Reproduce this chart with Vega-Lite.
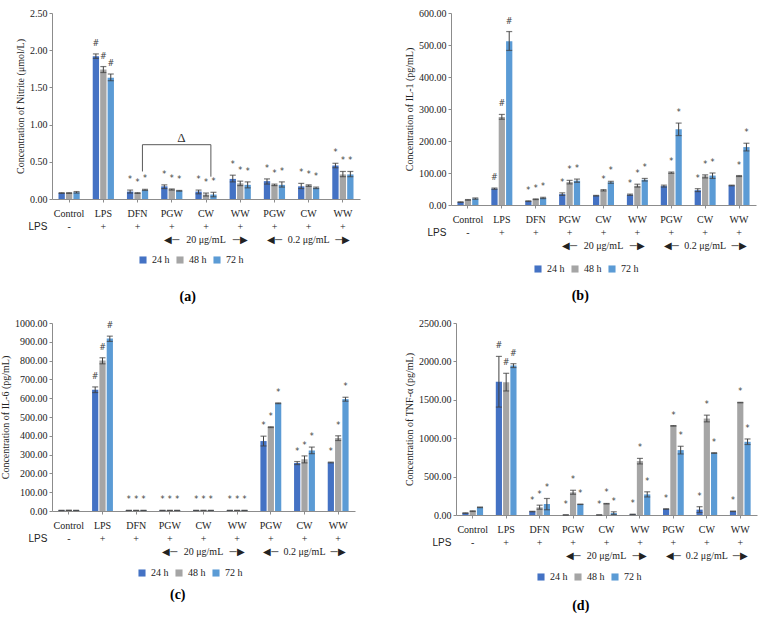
{
  "$schema": "https://vega.github.io/schema/vega-lite/v6.json",
  "background": "white",
  "padding": {"left": 0, "top": 8, "right": 2, "bottom": 0},
  "config": {
    "view": {"stroke": null},
    "font": "Liberation Serif",
    "axis": {"labelFont": "Liberation Serif", "labelFontSize": 10, "labelColor": "#222", "titleFont": "Liberation Serif", "titleFontSize": 10, "titleFontWeight": "normal", "titleColor": "#222", "domainColor": "#8c8c8c", "tickColor": "#8c8c8c", "tickSize": 3, "grid": false, "labelOverlap": false},
    "axisY": {"format": ".2f", "titlePadding": 4},
    "axisX": {"labelAngle": 0, "labelLineHeight": 13, "labelPadding": 6, "titleFont": "Liberation Sans", "titleFontSize": 10, "titleAnchor": "start", "titleX": -24, "titleY": 27, "titleBaseline": "middle", "titleAlign": "left"},
    "legend": {"orient": "none", "direction": "horizontal", "title": null, "symbolType": "square", "symbolSize": 50, "symbolStrokeWidth": 0, "labelFont": "Liberation Serif", "labelFontSize": 10, "labelColor": "#222", "columnPadding": 5},
    "title": {"orient": "bottom", "frame": "bounds", "anchor": "middle", "font": "Liberation Serif", "fontSize": 14, "fontWeight": "bold", "color": "#000", "offset": 20},
    "tick": {"color": "#404040", "thickness": 1.2, "size": 6},
    "rule": {"color": "#404040"},
    "text": {"font": "DejaVu Sans", "fontSize": 8, "dy": -10, "color": "#404040", "baseline": "middle"}
  },
  "datasets": {
    "a": [
      {"g":"Control","t":"24 h","v":0.08,"lo":0.075,"hi":0.085,"s":""},
      {"g":"Control","t":"48 h","v":0.08,"lo":0.075,"hi":0.085,"s":""},
      {"g":"Control","t":"72 h","v":0.09,"lo":0.08,"hi":0.10,"s":""},
      {"g":"LPS","t":"24 h","v":1.92,"lo":1.89,"hi":1.95,"s":"#"},
      {"g":"LPS","t":"48 h","v":1.74,"lo":1.70,"hi":1.78,"s":"#"},
      {"g":"LPS","t":"72 h","v":1.63,"lo":1.59,"hi":1.68,"s":"#"},
      {"g":"DFN","t":"24 h","v":0.10,"lo":0.08,"hi":0.12,"s":"*"},
      {"g":"DFN","t":"48 h","v":0.08,"lo":0.075,"hi":0.085,"s":"*"},
      {"g":"DFN","t":"72 h","v":0.12,"lo":0.115,"hi":0.13,"s":"*"},
      {"g":"PGW1","t":"24 h","v":0.17,"lo":0.14,"hi":0.19,"s":"*"},
      {"g":"PGW1","t":"48 h","v":0.13,"lo":0.12,"hi":0.135,"s":"*"},
      {"g":"PGW1","t":"72 h","v":0.11,"lo":0.105,"hi":0.115,"s":"*"},
      {"g":"CW1","t":"24 h","v":0.10,"lo":0.07,"hi":0.12,"s":"*"},
      {"g":"CW1","t":"48 h","v":0.06,"lo":0.04,"hi":0.08,"s":"*"},
      {"g":"CW1","t":"72 h","v":0.06,"lo":0.03,"hi":0.09,"s":"*"},
      {"g":"WW1","t":"24 h","v":0.27,"lo":0.23,"hi":0.32,"s":"*"},
      {"g":"WW1","t":"48 h","v":0.21,"lo":0.18,"hi":0.24,"s":"*"},
      {"g":"WW1","t":"72 h","v":0.19,"lo":0.15,"hi":0.23,"s":"*"},
      {"g":"PGW2","t":"24 h","v":0.24,"lo":0.20,"hi":0.27,"s":"*"},
      {"g":"PGW2","t":"48 h","v":0.19,"lo":0.18,"hi":0.20,"s":"*"},
      {"g":"PGW2","t":"72 h","v":0.19,"lo":0.16,"hi":0.23,"s":"*"},
      {"g":"CW2","t":"24 h","v":0.17,"lo":0.14,"hi":0.21,"s":"*"},
      {"g":"CW2","t":"48 h","v":0.18,"lo":0.17,"hi":0.19,"s":"*"},
      {"g":"CW2","t":"72 h","v":0.15,"lo":0.14,"hi":0.16,"s":"*"},
      {"g":"WW2","t":"24 h","v":0.45,"lo":0.42,"hi":0.48,"s":"*"},
      {"g":"WW2","t":"48 h","v":0.33,"lo":0.30,"hi":0.37,"s":"*"},
      {"g":"WW2","t":"72 h","v":0.33,"lo":0.30,"hi":0.37,"s":"*"}
    ],
    "b": [
      {"g":"Control","t":"24 h","v":9,"lo":8,"hi":10,"s":""},
      {"g":"Control","t":"48 h","v":16,"lo":15,"hi":17,"s":""},
      {"g":"Control","t":"72 h","v":20,"lo":18,"hi":22,"s":""},
      {"g":"LPS","t":"24 h","v":51,"lo":49,"hi":53,"s":"#"},
      {"g":"LPS","t":"48 h","v":275,"lo":268,"hi":283,"s":"#"},
      {"g":"LPS","t":"72 h","v":512,"lo":483,"hi":542,"s":"#"},
      {"g":"DFN","t":"24 h","v":12,"lo":11,"hi":13,"s":"*"},
      {"g":"DFN","t":"48 h","v":18,"lo":17,"hi":19,"s":"*"},
      {"g":"DFN","t":"72 h","v":22,"lo":20,"hi":24,"s":"*"},
      {"g":"PGW1","t":"24 h","v":34,"lo":30,"hi":38,"s":"*"},
      {"g":"PGW1","t":"48 h","v":72,"lo":66,"hi":77,"s":"*"},
      {"g":"PGW1","t":"72 h","v":76,"lo":71,"hi":81,"s":"*"},
      {"g":"CW1","t":"24 h","v":29,"lo":28,"hi":30,"s":""},
      {"g":"CW1","t":"48 h","v":46,"lo":44,"hi":48,"s":"*"},
      {"g":"CW1","t":"72 h","v":71,"lo":68,"hi":74,"s":"*"},
      {"g":"WW1","t":"24 h","v":32,"lo":30,"hi":34,"s":"*"},
      {"g":"WW1","t":"48 h","v":60,"lo":56,"hi":65,"s":"*"},
      {"g":"WW1","t":"72 h","v":79,"lo":75,"hi":83,"s":"*"},
      {"g":"PGW2","t":"24 h","v":59,"lo":56,"hi":62,"s":""},
      {"g":"PGW2","t":"48 h","v":101,"lo":99,"hi":103,"s":"*"},
      {"g":"PGW2","t":"72 h","v":237,"lo":217,"hi":256,"s":"*"},
      {"g":"CW2","t":"24 h","v":46,"lo":42,"hi":51,"s":"*"},
      {"g":"CW2","t":"48 h","v":90,"lo":85,"hi":94,"s":"*"},
      {"g":"CW2","t":"72 h","v":92,"lo":83,"hi":100,"s":"*"},
      {"g":"WW2","t":"24 h","v":61,"lo":60,"hi":62,"s":""},
      {"g":"WW2","t":"48 h","v":91,"lo":89,"hi":92,"s":"*"},
      {"g":"WW2","t":"72 h","v":181,"lo":169,"hi":193,"s":"*"}
    ],
    "c": [
      {"g":"Control","t":"24 h","v":3,"lo":3,"hi":3,"s":""},
      {"g":"Control","t":"48 h","v":3,"lo":3,"hi":3,"s":""},
      {"g":"Control","t":"72 h","v":3,"lo":3,"hi":3,"s":""},
      {"g":"LPS","t":"24 h","v":645,"lo":630,"hi":660,"s":"#"},
      {"g":"LPS","t":"48 h","v":800,"lo":783,"hi":815,"s":"#"},
      {"g":"LPS","t":"72 h","v":917,"lo":902,"hi":930,"s":"#"},
      {"g":"DFN","t":"24 h","v":3,"lo":3,"hi":3,"s":"*"},
      {"g":"DFN","t":"48 h","v":3,"lo":3,"hi":3,"s":"*"},
      {"g":"DFN","t":"72 h","v":3,"lo":3,"hi":3,"s":"*"},
      {"g":"PGW1","t":"24 h","v":3,"lo":3,"hi":3,"s":"*"},
      {"g":"PGW1","t":"48 h","v":3,"lo":3,"hi":3,"s":"*"},
      {"g":"PGW1","t":"72 h","v":3,"lo":3,"hi":3,"s":"*"},
      {"g":"CW1","t":"24 h","v":3,"lo":3,"hi":3,"s":"*"},
      {"g":"CW1","t":"48 h","v":3,"lo":3,"hi":3,"s":"*"},
      {"g":"CW1","t":"72 h","v":3,"lo":3,"hi":3,"s":"*"},
      {"g":"WW1","t":"24 h","v":3,"lo":3,"hi":3,"s":"*"},
      {"g":"WW1","t":"48 h","v":3,"lo":3,"hi":3,"s":"*"},
      {"g":"WW1","t":"72 h","v":3,"lo":3,"hi":3,"s":"*"},
      {"g":"PGW2","t":"24 h","v":372,"lo":346,"hi":398,"s":"*"},
      {"g":"PGW2","t":"48 h","v":446,"lo":444,"hi":448,"s":"*"},
      {"g":"PGW2","t":"72 h","v":573,"lo":571,"hi":575,"s":"*"},
      {"g":"CW2","t":"24 h","v":255,"lo":247,"hi":263,"s":"*"},
      {"g":"CW2","t":"48 h","v":275,"lo":256,"hi":293,"s":"*"},
      {"g":"CW2","t":"72 h","v":322,"lo":305,"hi":340,"s":"*"},
      {"g":"WW2","t":"24 h","v":258,"lo":256,"hi":260,"s":"*"},
      {"g":"WW2","t":"48 h","v":388,"lo":375,"hi":400,"s":"*"},
      {"g":"WW2","t":"72 h","v":595,"lo":584,"hi":605,"s":"*"}
    ],
    "d": [
      {"g":"Control","t":"24 h","v":25,"lo":22,"hi":28,"s":""},
      {"g":"Control","t":"48 h","v":50,"lo":46,"hi":54,"s":""},
      {"g":"Control","t":"72 h","v":100,"lo":96,"hi":104,"s":""},
      {"g":"LPS","t":"24 h","v":1735,"lo":1405,"hi":2065,"s":"#"},
      {"g":"LPS","t":"48 h","v":1730,"lo":1615,"hi":1845,"s":"#"},
      {"g":"LPS","t":"72 h","v":1945,"lo":1920,"hi":1970,"s":"#"},
      {"g":"DFN","t":"24 h","v":45,"lo":42,"hi":48,"s":"*"},
      {"g":"DFN","t":"48 h","v":100,"lo":75,"hi":128,"s":"*"},
      {"g":"DFN","t":"72 h","v":143,"lo":68,"hi":215,"s":"*"},
      {"g":"PGW1","t":"24 h","v":1,"lo":1,"hi":1,"s":"*"},
      {"g":"PGW1","t":"48 h","v":295,"lo":270,"hi":322,"s":"*"},
      {"g":"PGW1","t":"72 h","v":139,"lo":137,"hi":141,"s":"*"},
      {"g":"CW1","t":"24 h","v":1,"lo":1,"hi":1,"s":"*"},
      {"g":"CW1","t":"48 h","v":147,"lo":144,"hi":150,"s":"*"},
      {"g":"CW1","t":"72 h","v":25,"lo":6,"hi":42,"s":"*"},
      {"g":"WW1","t":"24 h","v":8,"lo":6,"hi":10,"s":"*"},
      {"g":"WW1","t":"48 h","v":702,"lo":665,"hi":737,"s":"*"},
      {"g":"WW1","t":"72 h","v":268,"lo":235,"hi":302,"s":"*"},
      {"g":"PGW2","t":"24 h","v":78,"lo":75,"hi":81,"s":"*"},
      {"g":"PGW2","t":"48 h","v":1161,"lo":1158,"hi":1164,"s":"*"},
      {"g":"PGW2","t":"72 h","v":845,"lo":795,"hi":895,"s":"*"},
      {"g":"CW2","t":"24 h","v":70,"lo":32,"hi":108,"s":"*"},
      {"g":"CW2","t":"48 h","v":1256,"lo":1213,"hi":1300,"s":"*"},
      {"g":"CW2","t":"72 h","v":806,"lo":801,"hi":811,"s":"*"},
      {"g":"WW2","t":"24 h","v":48,"lo":45,"hi":51,"s":"*"},
      {"g":"WW2","t":"48 h","v":1464,"lo":1461,"hi":1467,"s":"*"},
      {"g":"WW2","t":"72 h","v":953,"lo":918,"hi":990,"s":"*"}
    ],
    "bracketH": [{"g":"DFN","g2":"CW1","y":0.73}],
    "bracketV": [{"g":"DFN","y":0.37,"y2":0.73},{"g":"CW1","y":0.30,"y2":0.73}],
    "delta": [{"g":"PGW1","y":0.82,"label":"Δ"}]
  },
  "columns": 2,
  "align": "none",
  "spacing": {"row": 14, "column": 44},
  "resolve": {"scale": {"color": "independent", "x": "independent", "y": "independent", "xOffset": "independent"}, "legend": {"color": "independent"}},
  "concat": [
    {
      "width": 308, "height": 186,
      "title": {"text": "(a)", "offset": 25},
      "encoding": {
        "x": {"field": "g", "type": "nominal", "scale": {"domain": ["Control","LPS","DFN","PGW1","CW1","WW1","PGW2","CW2","WW2"], "paddingInner": 0.38, "paddingOuter": 0.19},
          "axis": {"title": "LPS", "labelExpr": "[indexof(['PGW1','CW1','WW1','PGW2','CW2','WW2'], datum.value) >= 0 ? slice(datum.value, 0, -1) : datum.value, datum.value == 'Control' ? '-' : '+', (datum.value == 'PGW1' || datum.value == 'PGW2') ? '◀─\u00a0\u00a0\u00a0\u00a0' : datum.value == 'CW1' ? '20 μg/mL' : datum.value == 'CW2' ? '0.2 μg/mL' : (datum.value == 'WW1' || datum.value == 'WW2') ? '\u00a0\u00a0\u00a0\u00a0─▶' : '']"}}
      },
      "layer": [
        {"data": {"name": "a"}, "mark": {"type": "bar"},
         "encoding": {
           "xOffset": {"field": "t", "type": "nominal", "scale": {"domain": ["24 h","48 h","72 h"], "paddingInner": 0.15}},
           "y": {"field": "v", "type": "quantitative", "title": "Concentration of Nitrite (μmol/L)", "scale": {"domain": [0, 2.5], "nice": false}, "axis": {"values": [0, 0.5, 1, 1.5, 2, 2.5]}},
           "color": {"field": "t", "type": "nominal", "scale": {"domain": ["24 h","48 h","72 h"], "range": ["#4472C4","#A5A5A5","#5B9BD5"]}, "legend": {"legendX": 86, "legendY": 242}}
         }},
        {"data": {"name": "a"}, "mark": {"type": "rule"},
         "encoding": {"xOffset": {"field": "t", "type": "nominal"}, "y": {"field": "lo", "type": "quantitative", "title": "Concentration of Nitrite (μmol/L)", "axis": {"values": [0, 0.5, 1, 1.5, 2, 2.5]}}, "y2": {"field": "hi"}}},
        {"data": {"name": "a"}, "mark": {"type": "tick"},
         "encoding": {"xOffset": {"field": "t", "type": "nominal"}, "y": {"field": "lo", "type": "quantitative", "title": "Concentration of Nitrite (μmol/L)", "axis": {"values": [0, 0.5, 1, 1.5, 2, 2.5]}}}},
        {"data": {"name": "a"}, "mark": {"type": "tick"},
         "encoding": {"xOffset": {"field": "t", "type": "nominal"}, "y": {"field": "hi", "type": "quantitative", "title": "Concentration of Nitrite (μmol/L)", "axis": {"values": [0, 0.5, 1, 1.5, 2, 2.5]}}}},
        {"data": {"name": "a"}, "mark": {"type": "text"},
         "encoding": {"xOffset": {"field": "t", "type": "nominal"}, "y": {"field": "hi", "type": "quantitative", "title": "Concentration of Nitrite (μmol/L)", "axis": {"values": [0, 0.5, 1, 1.5, 2, 2.5]}}, "text": {"field": "s"}}},
        {"data": {"name": "bracketH"}, "mark": {"type": "rule", "color": "#595959"},
         "encoding": {"x": {"field": "g", "type": "nominal", "bandPosition": 0.73}, "x2": {"field": "g2", "bandPosition": 0.73}, "y": {"field": "y", "type": "quantitative", "title": "Concentration of Nitrite (μmol/L)", "axis": {"values": [0, 0.5, 1, 1.5, 2, 2.5]}}}},
        {"data": {"name": "bracketV"}, "mark": {"type": "rule", "color": "#595959"},
         "encoding": {"x": {"field": "g", "type": "nominal", "bandPosition": 0.73}, "y": {"field": "y", "type": "quantitative", "title": "Concentration of Nitrite (μmol/L)", "axis": {"values": [0, 0.5, 1, 1.5, 2, 2.5]}}, "y2": {"field": "y2"}}},
        {"data": {"name": "delta"}, "mark": {"type": "text", "font": "Liberation Serif", "fontSize": 13, "dy": 0, "color": "#333"},
         "encoding": {"x": {"field": "g", "type": "nominal", "bandPosition": 0.95}, "y": {"field": "y", "type": "quantitative", "title": "Concentration of Nitrite (μmol/L)", "axis": {"values": [0, 0.5, 1, 1.5, 2, 2.5]}}, "text": {"field": "label"}}}
      ]
    },
    {
      "width": 305, "height": 192,
      "title": {"text": "(b)", "offset": 15},
      "data": {"name": "b"},
      "encoding": {
        "x": {"field": "g", "type": "nominal", "scale": {"domain": ["Control","LPS","DFN","PGW1","CW1","WW1","PGW2","CW2","WW2"], "paddingInner": 0.38, "paddingOuter": 0.19},
          "axis": {"title": "LPS", "labelExpr": "[indexof(['PGW1','CW1','WW1','PGW2','CW2','WW2'], datum.value) >= 0 ? slice(datum.value, 0, -1) : datum.value, datum.value == 'Control' ? '-' : '+', (datum.value == 'PGW1' || datum.value == 'PGW2') ? '◀─\u00a0\u00a0\u00a0\u00a0' : datum.value == 'CW1' ? '20 μg/mL' : datum.value == 'CW2' ? '0.2 μg/mL' : (datum.value == 'WW1' || datum.value == 'WW2') ? '\u00a0\u00a0\u00a0\u00a0─▶' : '']"}},
        "xOffset": {"field": "t", "type": "nominal", "scale": {"domain": ["24 h","48 h","72 h"], "paddingInner": 0.15}}
      },
      "layer": [
        {"mark": {"type": "bar"},
         "encoding": {
           "y": {"field": "v", "type": "quantitative", "title": "Concentration of IL-1 (pg/mL)", "scale": {"domain": [0, 600], "nice": false}, "axis": {"values": [0, 100, 200, 300, 400, 500, 600]}},
           "color": {"field": "t", "type": "nominal", "scale": {"domain": ["24 h","48 h","72 h"], "range": ["#4472C4","#A5A5A5","#5B9BD5"]}, "legend": {"legendX": 82, "legendY": 251}}
         }},
        {"mark": {"type": "rule"}, "encoding": {"y": {"field": "lo", "type": "quantitative", "title": "Concentration of IL-1 (pg/mL)", "axis": {"values": [0, 100, 200, 300, 400, 500, 600]}}, "y2": {"field": "hi"}}},
        {"mark": {"type": "tick"}, "encoding": {"y": {"field": "lo", "type": "quantitative", "title": "Concentration of IL-1 (pg/mL)", "axis": {"values": [0, 100, 200, 300, 400, 500, 600]}}}},
        {"mark": {"type": "tick"}, "encoding": {"y": {"field": "hi", "type": "quantitative", "title": "Concentration of IL-1 (pg/mL)", "axis": {"values": [0, 100, 200, 300, 400, 500, 600]}}}},
        {"mark": {"type": "text"}, "encoding": {"y": {"field": "hi", "type": "quantitative", "title": "Concentration of IL-1 (pg/mL)", "axis": {"values": [0, 100, 200, 300, 400, 500, 600]}}, "text": {"field": "s"}}}
      ]
    },
    {
      "width": 303, "height": 188,
      "title": {"text": "(c)", "offset": 10},
      "data": {"name": "c"},
      "encoding": {
        "x": {"field": "g", "type": "nominal", "scale": {"domain": ["Control","LPS","DFN","PGW1","CW1","WW1","PGW2","CW2","WW2"], "paddingInner": 0.38, "paddingOuter": 0.19},
          "axis": {"title": "LPS", "labelExpr": "[indexof(['PGW1','CW1','WW1','PGW2','CW2','WW2'], datum.value) >= 0 ? slice(datum.value, 0, -1) : datum.value, datum.value == 'Control' ? '-' : '+', (datum.value == 'PGW1' || datum.value == 'PGW2') ? '◀─\u00a0\u00a0\u00a0\u00a0' : datum.value == 'CW1' ? '20 μg/mL' : datum.value == 'CW2' ? '0.2 μg/mL' : (datum.value == 'WW1' || datum.value == 'WW2') ? '\u00a0\u00a0\u00a0\u00a0─▶' : '']"}},
        "xOffset": {"field": "t", "type": "nominal", "scale": {"domain": ["24 h","48 h","72 h"], "paddingInner": 0.15}}
      },
      "layer": [
        {"mark": {"type": "bar"},
         "encoding": {
           "y": {"field": "v", "type": "quantitative", "title": "Concentration of IL-6 (pg/mL)", "scale": {"domain": [0, 1000], "nice": false}, "axis": {"values": [0, 100, 200, 300, 400, 500, 600, 700, 800, 900, 1000]}},
           "color": {"field": "t", "type": "nominal", "scale": {"domain": ["24 h","48 h","72 h"], "range": ["#4472C4","#A5A5A5","#5B9BD5"]}, "legend": {"legendX": 85, "legendY": 245}}
         }},
        {"mark": {"type": "rule"}, "encoding": {"y": {"field": "lo", "type": "quantitative", "title": "Concentration of IL-6 (pg/mL)", "axis": {"values": [0, 100, 200, 300, 400, 500, 600, 700, 800, 900, 1000]}}, "y2": {"field": "hi"}}},
        {"mark": {"type": "tick"}, "encoding": {"y": {"field": "lo", "type": "quantitative", "title": "Concentration of IL-6 (pg/mL)", "axis": {"values": [0, 100, 200, 300, 400, 500, 600, 700, 800, 900, 1000]}}}},
        {"mark": {"type": "tick"}, "encoding": {"y": {"field": "hi", "type": "quantitative", "title": "Concentration of IL-6 (pg/mL)", "axis": {"values": [0, 100, 200, 300, 400, 500, 600, 700, 800, 900, 1000]}}}},
        {"mark": {"type": "text"}, "encoding": {"y": {"field": "hi", "type": "quantitative", "title": "Concentration of IL-6 (pg/mL)", "axis": {"values": [0, 100, 200, 300, 400, 500, 600, 700, 800, 900, 1000]}}, "text": {"field": "s"}}}
      ]
    },
    {
      "width": 301, "height": 192,
      "title": {"text": "(d)", "offset": 17},
      "data": {"name": "d"},
      "encoding": {
        "x": {"field": "g", "type": "nominal", "scale": {"domain": ["Control","LPS","DFN","PGW1","CW1","WW1","PGW2","CW2","WW2"], "paddingInner": 0.38, "paddingOuter": 0.19},
          "axis": {"title": "LPS", "labelExpr": "[indexof(['PGW1','CW1','WW1','PGW2','CW2','WW2'], datum.value) >= 0 ? slice(datum.value, 0, -1) : datum.value, datum.value == 'Control' ? '-' : '+', (datum.value == 'PGW1' || datum.value == 'PGW2') ? '◀─\u00a0\u00a0\u00a0\u00a0' : datum.value == 'CW1' ? '20 μg/mL' : datum.value == 'CW2' ? '0.2 μg/mL' : (datum.value == 'WW1' || datum.value == 'WW2') ? '\u00a0\u00a0\u00a0\u00a0─▶' : '']"}},
        "xOffset": {"field": "t", "type": "nominal", "scale": {"domain": ["24 h","48 h","72 h"], "paddingInner": 0.15}}
      },
      "layer": [
        {"mark": {"type": "bar"},
         "encoding": {
           "y": {"field": "v", "type": "quantitative", "title": "Concentration of TNF-α (pg/mL)", "scale": {"domain": [0, 2500], "nice": false}, "axis": {"values": [0, 500, 1000, 1500, 2000, 2500]}},
           "color": {"field": "t", "type": "nominal", "scale": {"domain": ["24 h","48 h","72 h"], "range": ["#4472C4","#A5A5A5","#5B9BD5"]}, "legend": {"legendX": 80, "legendY": 249}}
         }},
        {"mark": {"type": "rule"}, "encoding": {"y": {"field": "lo", "type": "quantitative", "title": "Concentration of TNF-α (pg/mL)", "axis": {"values": [0, 500, 1000, 1500, 2000, 2500]}}, "y2": {"field": "hi"}}},
        {"mark": {"type": "tick"}, "encoding": {"y": {"field": "lo", "type": "quantitative", "title": "Concentration of TNF-α (pg/mL)", "axis": {"values": [0, 500, 1000, 1500, 2000, 2500]}}}},
        {"mark": {"type": "tick"}, "encoding": {"y": {"field": "hi", "type": "quantitative", "title": "Concentration of TNF-α (pg/mL)", "axis": {"values": [0, 500, 1000, 1500, 2000, 2500]}}}},
        {"mark": {"type": "text"}, "encoding": {"y": {"field": "hi", "type": "quantitative", "title": "Concentration of TNF-α (pg/mL)", "axis": {"values": [0, 500, 1000, 1500, 2000, 2500]}}, "text": {"field": "s"}}}
      ]
    }
  ]
}
